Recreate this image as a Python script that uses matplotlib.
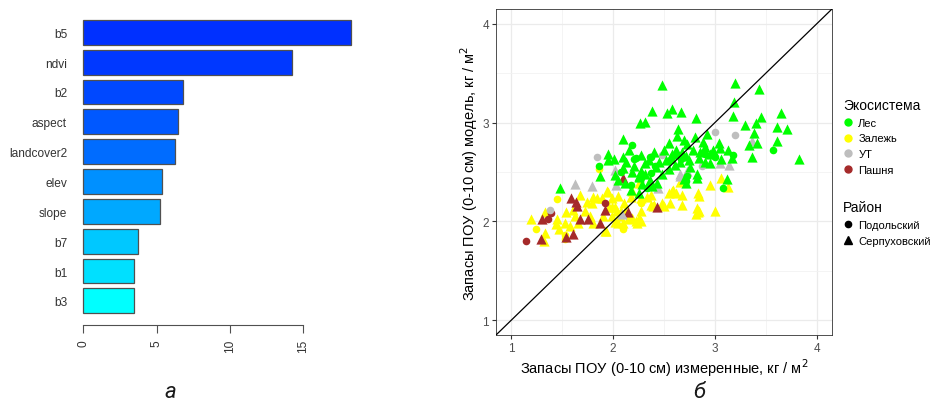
import matplotlib.pyplot as plt
from matplotlib.lines import Line2D

plt.rcParams['font.family'] = ['Liberation Sans', 'DejaVu Sans']

# --- панель а: важность переменных ---
var_names = ["b3", "b1", "b7", "slope", "elev", "landcover2", "aspect", "b2", "ndvi", "b5"]
var_importance = [3.43, 3.45, 3.74, 5.22, 5.37, 6.26, 6.42, 6.80, 14.20, 18.26]
bar_colors = ["#00FFFF", "#00E0FF", "#00C8FF", "#00A8FF", "#0090FF",
              "#006CFF", "#0058FF", "#0048FF", "#0038FF", "#0030FF"]

# --- панель б: измеренные (x) и модельные (y) запасы ---
les_tri = [(2.48, 3.38), (3.20, 3.40), (3.43, 3.34), (3.19, 3.21), (2.38, 3.12), (2.58, 3.14),
           (2.53, 3.10), (2.67, 3.11), (2.81, 3.05), (3.18, 3.07), (3.45, 3.06), (3.65, 3.10),
           (2.26, 3.00), (2.31, 3.01), (3.30, 2.98), (3.40, 3.00), (3.61, 2.96), (3.71, 2.94),
           (3.38, 2.89), (3.61, 2.81), (3.33, 2.77), (3.41, 2.79), (3.83, 2.63), (3.36, 2.65),
           (3.04, 2.79), (3.05, 2.74), (3.13, 2.72), (3.06, 2.63), (3.17, 2.64), (2.95, 2.59),
           (3.12, 2.43), (2.82, 2.48), (2.82, 2.44), (2.64, 2.94), (2.10, 2.83), (2.16, 2.72),
           (2.55, 2.79), (2.63, 2.86), (2.73, 2.78), (1.95, 2.68), (2.01, 2.63), (1.95, 2.62),
           (2.10, 2.65), (2.13, 2.60), (2.27, 2.67), (2.31, 2.59), (2.21, 2.56), (2.10, 2.54),
           (2.50, 2.72), (2.56, 2.64), (2.61, 2.57), (2.27, 2.51), (2.19, 2.50), (1.87, 2.46),
           (2.02, 2.47), (1.48, 2.34), (2.62, 2.72), (2.68, 2.70), (2.72, 2.66), (2.78, 2.72),
           (2.85, 2.70), (2.90, 2.75), (2.95, 2.68), (2.70, 2.82), (2.80, 2.85), (2.88, 2.80),
           (2.92, 2.88), (2.98, 2.72), (2.66, 2.60), (2.75, 2.62), (2.58, 2.68), (2.52, 2.62),
           (2.45, 2.60), (2.40, 2.70), (2.35, 2.62), (2.42, 2.55), (2.84, 2.64), (2.76, 2.55),
           (2.90, 2.60), (2.55, 2.53), (2.48, 2.48), (2.36, 2.42), (2.28, 2.38), (2.25, 2.45),
           (2.05, 2.42), (2.12, 2.39), (2.18, 2.32), (2.25, 2.29), (2.38, 2.36), (2.43, 2.39),
           (2.25, 2.46), (2.31, 2.48), (2.70, 2.43), (2.72, 2.39)]
les_circ = [(1.86, 2.56), (2.19, 2.77), (2.22, 2.64), (2.37, 2.65), (2.41, 2.56), (2.37, 2.49),
            (2.08, 2.50), (3.57, 2.72), (3.18, 2.67), (3.08, 2.34), (2.73, 2.46), (2.72, 2.41),
            (2.18, 2.37), (2.21, 2.63), (2.36, 2.65), (2.27, 2.44), (2.33, 2.34), (2.57, 2.62),
            (2.62, 2.68), (2.67, 2.63), (2.90, 2.68), (3.00, 2.65)]
ut_tri = [(1.63, 2.38), (1.79, 2.36), (2.03, 2.37), (2.02, 2.52), (2.44, 2.34), (2.66, 2.48),
          (2.73, 2.51), (3.36, 2.81), (3.05, 2.59), (3.14, 2.57), (2.09, 2.07), (2.66, 2.46)]
ut_circ = [(1.84, 2.65), (1.38, 2.12), (2.48, 2.67), (3.00, 2.90), (3.20, 2.87), (2.87, 2.56)]
pash_tri = [(1.30, 2.02), (1.59, 2.24), (1.64, 2.20), (1.65, 2.16), (1.92, 2.12), (1.67, 2.02),
            (1.75, 2.02), (1.87, 1.98), (2.10, 2.44), (2.15, 2.09), (2.43, 2.15), (1.29, 1.82),
            (1.54, 1.84), (1.61, 1.87)]
pash_circ = [(1.14, 1.80), (1.36, 2.02), (1.39, 2.08), (1.92, 2.19)]
zal_circ = [(1.45, 2.23), (1.24, 1.92), (1.53, 1.86), (1.53, 1.82), (2.10, 1.92), (1.86, 2.53),
            (2.27, 2.19)]
zal_tri = [(1.19, 2.02), (1.33, 2.09), (1.33, 1.88), (1.32, 1.80), (1.45, 2.02), (1.47, 1.92),
           (1.44, 1.97), (1.54, 2.09), (1.53, 1.98), (1.61, 2.12), (1.63, 2.05), (1.58, 1.95),
           (1.74, 2.20), (1.72, 2.10), (1.79, 2.19), (1.84, 2.24), (1.77, 2.05), (1.80, 1.98),
           (1.90, 2.05), (1.95, 2.30), (1.99, 2.15), (1.93, 1.90), (2.05, 1.98), (2.08, 2.10),
           (2.11, 2.19), (2.15, 2.02), (2.25, 2.03), (2.27, 2.10), (2.18, 2.25), (1.80, 2.25),
           (1.67, 2.27), (1.66, 1.98), (2.37, 2.17), (2.33, 2.25), (2.50, 2.16), (2.58, 2.31),
           (2.62, 2.29), (2.68, 2.17), (1.94, 2.31), (1.89, 2.24), (1.99, 2.24), (2.05, 2.26),
           (1.96, 2.15), (2.02, 2.15), (2.04, 2.10), (1.99, 2.05), (2.07, 2.05), (2.12, 2.10),
           (2.10, 1.98), (2.02, 1.99), (1.92, 1.90), (2.19, 2.03), (2.22, 2.00), (2.27, 2.00),
           (2.25, 2.39), (2.19, 2.31), (2.27, 2.24), (2.37, 2.27), (2.40, 2.17), (2.48, 2.19),
           (2.68, 2.27), (2.66, 2.40), (2.56, 2.19), (2.84, 2.10), (2.81, 2.07), (3.06, 2.44),
           (3.13, 2.35), (2.95, 2.37), (2.83, 2.29), (2.84, 2.26), (2.82, 2.14), (2.83, 2.09),
           (3.00, 2.10), (2.59, 2.32), (2.55, 2.29), (2.39, 2.16), (2.23, 1.98), (2.16, 2.03)]

eco_labels = ["Лес", "Залежь", "УТ", "Пашня"]
eco_colors = ["#00FF00", "#FFFF00", "#BEBEBE", "#A52A2A"]
groups = [(zal_circ, zal_tri, "#FFFF00"), (pash_circ, pash_tri, "#A52A2A"),
          (ut_circ, ut_tri, "#BEBEBE"), (les_circ, les_tri, "#00FF00")]

fig = plt.figure(figsize=(9.43, 4.02), dpi=100)

# ---------- а ----------
ax1 = fig.add_axes([0.077, 0.189, 0.3069, 0.7865])
ax1.barh(range(len(var_names)), var_importance, height=0.833, color=bar_colors,
         edgecolor="#505050", linewidth=0.9)
ax1.set_xlim(-0.73, 18.99)
ax1.set_ylim(-0.808, 9.784)
ax1.set_yticks(range(len(var_names)))
ax1.set_yticklabels(var_names, fontsize=8.6, color="#333333")
ax1.tick_params(axis="y", length=0, pad=4)
ax1.set_xticks([0, 5, 10, 15])
ax1.set_xticklabels(["0", "5", "10", "15"], rotation=90, fontsize=8.6, color="#333333")
ax1.tick_params(axis="x", length=6, color="#505050", direction="out", pad=4)
for s in ["top", "right", "left"]:
    ax1.spines[s].set_visible(False)
ax1.spines["bottom"].set_bounds(0, 15)
ax1.spines["bottom"].set_color("#505050")

# ---------- б ----------
ax2 = fig.add_axes([0.526, 0.1642, 0.3563, 0.811])
for circ, tri, col in groups:
    ax2.scatter([p[0] for p in circ], [p[1] for p in circ], s=30, marker="o",
                color=col, linewidths=0, zorder=3)
    ax2.scatter([p[0] for p in tri], [p[1] for p in tri], s=54, marker="^",
                color=col, linewidths=0, zorder=3)
ax2.plot([0.85, 4.15], [0.85, 4.15], color="black", linewidth=0.9, zorder=4)
ax2.set_xlim(0.85, 4.15)
ax2.set_ylim(0.85, 4.15)
ax2.set_xticks([1, 2, 3, 4])
ax2.set_yticks([1, 2, 3, 4])
ax2.set_xticks([1.5, 2.5, 3.5], minor=True)
ax2.set_yticks([1.5, 2.5, 3.5], minor=True)
ax2.grid(which="major", color="#EBEBEB", linewidth=0.9)
ax2.grid(which="minor", color="#F2F2F2", linewidth=0.6)
ax2.set_axisbelow(True)
ax2.tick_params(which="major", labelsize=8.5, labelcolor="#4D4D4D", color="#333333",
                length=3, pad=2)
ax2.tick_params(which="minor", length=0)
for s in ax2.spines.values():
    s.set_color("#333333")
    s.set_linewidth(0.6)
ax2.set_xlabel("Запасы ПОУ (0-10 см) измеренные, кг / м$^2$", fontsize=10.5, labelpad=2)
ax2.set_ylabel("Запасы ПОУ (0-10 см) модель, кг / м$^2$", fontsize=10.5, labelpad=2)

# легенды
eco_handles = [Line2D([], [], marker="o", linestyle="", color=c, markersize=5) for c in eco_colors]
leg1 = fig.legend(eco_handles, eco_labels, title="Экосистема", loc="upper left",
                  bbox_to_anchor=(0.889, 0.765), frameon=False, fontsize=8,
                  title_fontsize=10, handletextpad=0.4, labelspacing=0.52,
                  handlelength=1.0, borderaxespad=0)
leg1._legend_box.align = "left"
reg_handles = [Line2D([], [], marker="o", linestyle="", color="black", markersize=4.5),
               Line2D([], [], marker="^", linestyle="", color="black", markersize=5.5)]
leg2 = fig.legend(reg_handles, ["Подольский", "Серпуховский"], title="Район", loc="upper left",
                  bbox_to_anchor=(0.889, 0.51), frameon=False, fontsize=8,
                  title_fontsize=10, handletextpad=0.4, labelspacing=0.52,
                  handlelength=1.0, borderaxespad=0)
leg2._legend_box.align = "left"

fig.text(0.181, 0.01, "а", fontsize=16, style="italic", ha="center", va="baseline",
         family=["Roboto", "DejaVu Sans"], color="#1A1A1A")
fig.text(0.742, 0.01, "б", fontsize=16, style="italic", ha="center", va="baseline",
         family=["Roboto", "DejaVu Sans"], color="#1A1A1A")

fig.savefig("out.png", dpi=100)
